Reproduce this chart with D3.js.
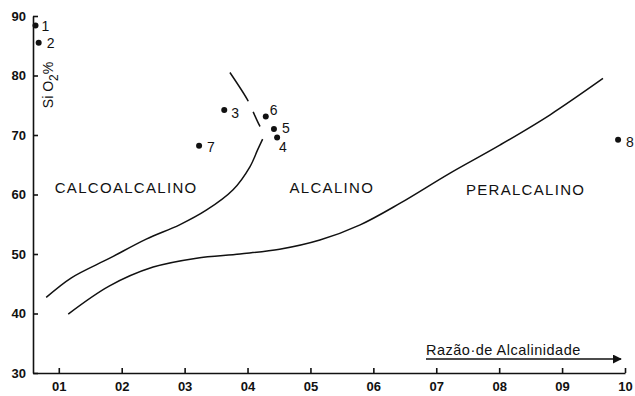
<!DOCTYPE html>
<html>
<head>
<meta charset="utf-8">
<script src="https://cdn.jsdelivr.net/npm/d3@7"></script>
<style>
  body { margin: 0; background: #fff; }
  svg { display: block; font-family: "Liberation Sans", Arial, sans-serif; }
  .axis path, .axis line { stroke: #111; stroke-width: 1.6; }
  .axis text { font-size: 13px; font-weight: bold; fill: #111; font-family: "Liberation Sans", Arial, sans-serif; }
</style>
</head>
<body>
<div id="chart"></div>
<script>
var WIDTH = 635, HEIGHT = 396;

// samples: alkalinity ratio vs SiO2 %
var sampleIds = ["1", "2", "3", "4", "5", "6", "7", "8"];
var ratio = [0.63, 0.68, 3.63, 4.47, 4.42, 4.29, 3.23, 9.89];
var silica = [88.4, 85.5, 74.2, 69.6, 71.0, 73.1, 68.2, 69.2];

// boundary calcoalcalino / alcalino (solid part, then dashed extension)
var calcoX = [0.80, 1.20, 1.81, 2.39, 2.92, 3.35, 3.77, 4.04, 4.16, 4.24];
var calcoY = [42.7, 46.0, 49.3, 52.5, 54.9, 57.4, 60.8, 64.7, 67.5, 69.3];
var calcoDashX = [4.24, 4.26, 4.19, 4.08, 4.00, 3.72];
var calcoDashY = [69.3, 70.4, 71.6, 74.1, 75.9, 80.5];

// boundary alcalino / peralcalino
var peraX = [1.15, 1.80, 2.50, 3.19, 3.88, 4.51, 5.15, 5.79, 6.42, 7.22, 8.01, 8.81, 9.65];
var peraY = [39.9, 44.6, 47.8, 49.3, 50.0, 50.8, 52.35, 54.9, 58.5, 63.6, 68.3, 73.4, 79.5];

var regionNames = ["CALCOALCALINO", "ALCALINO", "PERALCALINO"];
var regionX = [2.07, 5.34, 8.42];
var regionY = [61.1, 61.1, 60.9];

var xTicks = [1, 2, 3, 4, 5, 6, 7, 8, 9, 10];
var xTickLabels = ["01", "02", "03", "04", "05", "06", "07", "08", "09", "10"];
var yTicks = [30, 40, 50, 60, 70, 80, 90];

// label offsets (px) for sample numbers
var labelOffset = {
  "1": [6, 0], "2": [8, 0], "3": [7, 3], "4": [2, 10],
  "5": [8, -1], "6": [4, -7], "7": [8, 1], "8": [8, 2]
};

var svg = d3.select("#chart").append("svg")
  .attr("width", WIDTH)
  .attr("height", HEIGHT);

var xScale = d3.scaleLinear().domain([0.59, 10]).range([33, 625]);
var yScale = d3.scaleLinear().domain([30, 90]).range([373, 16]);

var xAxis = svg.append("g")
  .attr("class", "axis")
  .attr("transform", "translate(0," + yScale(30) + ")")
  .call(d3.axisBottom(xScale)
    .tickValues(xTicks)
    .tickSize(-5)
    .tickSizeOuter(0)
    .tickPadding(9)
    .tickFormat(function(d, i) { return xTickLabels[i]; }));

var yAxis = svg.append("g")
  .attr("class", "axis")
  .attr("transform", "translate(" + xScale(0.59) + ",0)")
  .call(d3.axisLeft(yScale)
    .tickValues(yTicks)
    .tickSize(-5)
    .tickSizeOuter(0)
    .tickPadding(7));

var line = d3.line()
  .x(function(d) { return xScale(d[0]); })
  .y(function(d) { return yScale(d[1]); })
  .curve(d3.curveCatmullRom);

function pts(xs, ys) {
  return xs.map(function(x, i) { return [x, ys[i]]; });
}

svg.append("path")
  .attr("d", line(pts(calcoX, calcoY)))
  .style("fill", "none")
  .style("stroke", "#111")
  .style("stroke-width", 1.5);

svg.append("path")
  .attr("d", line(pts(calcoDashX, calcoDashY)))
  .style("fill", "none")
  .style("stroke", "#111")
  .style("stroke-width", 1.5)
  .style("stroke-dasharray", "0,14,16,12,40");

svg.append("path")
  .attr("d", line(pts(peraX, peraY)))
  .style("fill", "none")
  .style("stroke", "#111")
  .style("stroke-width", 1.5);

// region names
svg.selectAll(".region")
  .data(regionNames)
  .enter().append("text")
  .attr("class", "region")
  .attr("x", function(d, i) { return xScale(regionX[i]); })
  .attr("y", function(d, i) { return yScale(regionY[i]); })
  .attr("dy", "0.36em")
  .style("text-anchor", "middle")
  .style("font-size", "15px")
  .style("letter-spacing", "1.3px")
  .style("fill", "#111")
  .text(function(d) { return d; });

// samples
var samples = sampleIds.map(function(id, i) { return {id: id, x: ratio[i], y: silica[i]}; });

svg.selectAll(".dot")
  .data(samples)
  .enter().append("circle")
  .attr("class", "dot")
  .attr("cx", function(d) { return xScale(d.x); })
  .attr("cy", function(d) { return yScale(d.y); })
  .attr("r", 3)
  .style("fill", "#111");

svg.selectAll(".lbl")
  .data(samples)
  .enter().append("text")
  .attr("class", "lbl")
  .attr("x", function(d) { return xScale(d.x) + labelOffset[d.id][0]; })
  .attr("y", function(d) { return yScale(d.y) + labelOffset[d.id][1]; })
  .attr("dy", "0.36em")
  .style("font-size", "14px")
  .style("fill", "#111")
  .text(function(d) { return d.id; });

// y label: Si O2 %
var yLabel = svg.append("text")
  .attr("transform", "translate(53,85) rotate(-90)")
  .style("text-anchor", "middle")
  .style("font-size", "14px")
  .style("fill", "#111");
yLabel.append("tspan").text("Si O");
yLabel.append("tspan").attr("dy", 5).style("font-size", "12px").text("2");
yLabel.append("tspan").attr("dy", -5).text("%");

// x label with arrow
svg.append("defs").append("marker")
  .attr("id", "arrow")
  .attr("viewBox", "0 0 10 10")
  .attr("refX", 9).attr("refY", 5)
  .attr("markerWidth", 9).attr("markerHeight", 9)
  .attr("markerUnits", "userSpaceOnUse")
  .attr("orient", "auto")
  .append("path")
  .attr("d", "M0,0L10,5L0,10Z")
  .style("fill", "#111");

svg.append("line")
  .attr("x1", 426).attr("y1", 359)
  .attr("x2", 621).attr("y2", 359)
  .style("stroke", "#111")
  .style("stroke-width", 1.4)
  .attr("marker-end", "url(#arrow)");

svg.append("text")
  .attr("x", 426)
  .attr("y", 355)
  .style("font-size", "14.5px")
  .style("letter-spacing", "0.5px")
  .style("fill", "#111")
  .text("Razão·de Alcalinidade");
</script>
</body>
</html>
